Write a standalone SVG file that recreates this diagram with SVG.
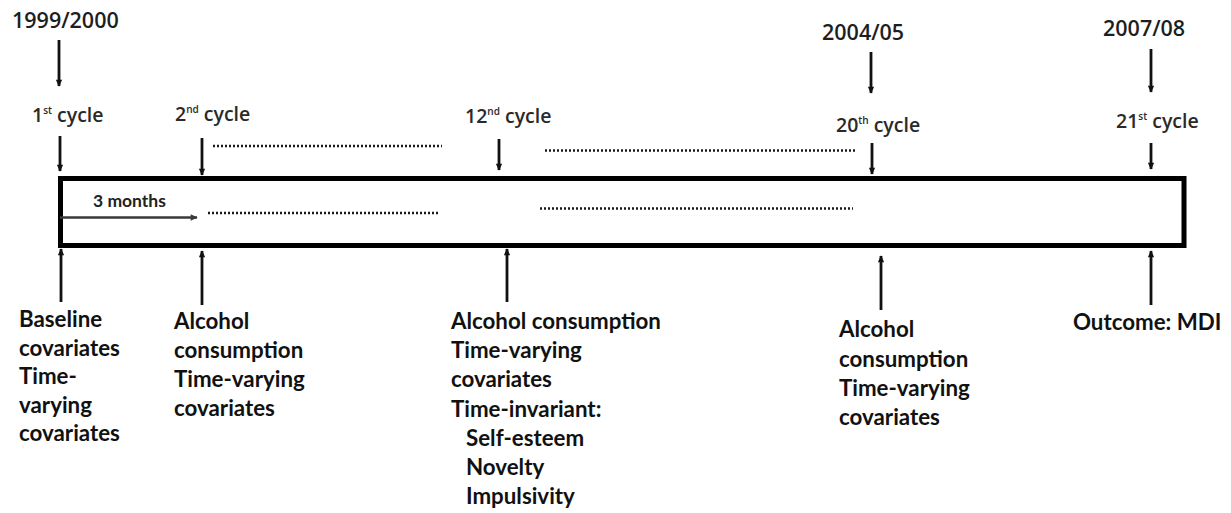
<svg xmlns="http://www.w3.org/2000/svg" width="1231" height="513" viewBox="0 0 1231 513">
<defs>
<marker id="ah" viewBox="0 0 10 10" refX="9" refY="5" markerWidth="9" markerHeight="7" markerUnits="userSpaceOnUse" orient="auto">
<path d="M0,0.5 L10,5 L0,9.5 z" fill="#111"/>
</marker>
<marker id="ahg" viewBox="0 0 10 10" refX="9" refY="5" markerWidth="9" markerHeight="7" markerUnits="userSpaceOnUse" orient="auto">
<path d="M0,0.5 L10,5 L0,9.5 z" fill="#3a3a3a"/>
</marker>
<style>
.yr{font-family:"Open Sans","Liberation Sans",sans-serif;font-weight:600;font-size:21.5px;fill:#1e1e1e}
.cy{font-family:"Open Sans","Liberation Sans",sans-serif;font-weight:600;font-size:19.5px;fill:#2a2a2a}
.sup{font-size:10px}
.lb{font-family:Lato,"Liberation Sans",sans-serif;font-weight:700;font-size:22.3px;fill:#111}
.sm{font-family:Lato,"Liberation Sans",sans-serif;font-weight:700;font-size:17.5px;fill:#222}
.arr{stroke:#111;stroke-width:2.8;fill:none;marker-end:url(#ah)}
.dot{stroke:#1a1a1a;stroke-width:2.5;stroke-dasharray:2 2;fill:none}
</style>
</defs>
<rect width="1231" height="513" fill="#fff"/>

<g id="timeline">
<rect x="60.5" y="178.5" width="1123.5" height="67" fill="none" stroke="#000" stroke-width="5"/>
<text class="sm" x="93" y="207">3 months</text>
</g>

<g id="connectors">
<line class="arr" x1="59" y1="40" x2="59" y2="86"/>
<line class="arr" x1="60" y1="136" x2="60" y2="171"/>
<line class="arr" x1="202" y1="138" x2="202" y2="175"/>
<line class="arr" x1="499" y1="139" x2="499" y2="170"/>
<line class="arr" x1="871" y1="52" x2="871" y2="93"/>
<line class="arr" x1="872" y1="143" x2="872" y2="174"/>
<line class="arr" x1="1151" y1="49" x2="1151" y2="92"/>
<line class="arr" x1="1151" y1="143" x2="1151" y2="169"/>
<line class="arr" x1="61" y1="302" x2="61" y2="249"/>
<line class="arr" x1="202" y1="305" x2="202" y2="251"/>
<line class="arr" x1="507" y1="302" x2="507" y2="249"/>
<line class="arr" x1="881" y1="310" x2="881" y2="256"/>
<line class="arr" x1="1151" y1="305" x2="1151" y2="251"/>
<line x1="60" y1="217.5" x2="197" y2="217.5" stroke="#3a3a3a" stroke-width="2.5" marker-end="url(#ahg)"/>
<line class="dot" x1="213" y1="146" x2="442" y2="146"/>
<line class="dot" x1="545" y1="150.5" x2="855" y2="150.5"/>
<line class="dot" x1="208" y1="213" x2="439" y2="213"/>
<line class="dot" x1="540" y1="208.5" x2="853" y2="208.5"/>
</g>

<g id="year-1999">
<text class="yr" x="12" y="28">1999/2000</text>
</g>
<g id="year-2004">
<text class="yr" x="822" y="40">2004/05</text>
</g>
<g id="year-2007">
<text class="yr" x="1103" y="36">2007/08</text>
</g>

<g id="cycle-1">
<text class="cy" x="32" y="122">1<tspan class="sup" dy="-8">st</tspan><tspan dy="8"> cycle</tspan></text>
</g>
<g id="cycle-2">
<text class="cy" x="175" y="121">2<tspan class="sup" dy="-8">nd</tspan><tspan dy="8"> cycle</tspan></text>
</g>
<g id="cycle-12">
<text class="cy" x="465" y="123">12<tspan class="sup" dy="-8">nd</tspan><tspan dy="8"> cycle</tspan></text>
</g>
<g id="cycle-20">
<text class="cy" x="836" y="132">20<tspan class="sup" dy="-8">th</tspan><tspan dy="8"> cycle</tspan></text>
</g>
<g id="cycle-21">
<text class="cy" x="1116" y="128">21<tspan class="sup" dy="-8">st</tspan><tspan dy="8"> cycle</tspan></text>
</g>

<g id="label-baseline">
<text class="lb" x="19" y="327">Baseline</text>
<text class="lb" x="19" y="355.5">covariates</text>
<text class="lb" x="19" y="384">Time-</text>
<text class="lb" x="19" y="412.5">varying</text>
<text class="lb" x="19" y="441">covariates</text>
</g>
<g id="label-cycle2">
<text class="lb" x="174" y="329">Alcohol</text>
<text class="lb" x="174" y="358">consumption</text>
<text class="lb" x="174" y="387">Time-varying</text>
<text class="lb" x="174" y="416">covariates</text>
</g>
<g id="label-cycle12">
<text class="lb" x="451" y="329">Alcohol consumption</text>
<text class="lb" x="451" y="358">Time-varying</text>
<text class="lb" x="451" y="387">covariates</text>
<text class="lb" x="451" y="417">Time-invariant:</text>
<text class="lb" x="466" y="446">Self-esteem</text>
<text class="lb" x="466" y="475">Novelty</text>
<text class="lb" x="466" y="504">Impulsivity</text>
</g>
<g id="label-cycle20">
<text class="lb" x="839" y="337">Alcohol</text>
<text class="lb" x="839" y="366.5">consumption</text>
<text class="lb" x="839" y="396">Time-varying</text>
<text class="lb" x="839" y="425">covariates</text>
</g>
<g id="label-outcome">
<text class="lb" x="1073" y="330">Outcome: MDI</text>
</g>
</svg>
